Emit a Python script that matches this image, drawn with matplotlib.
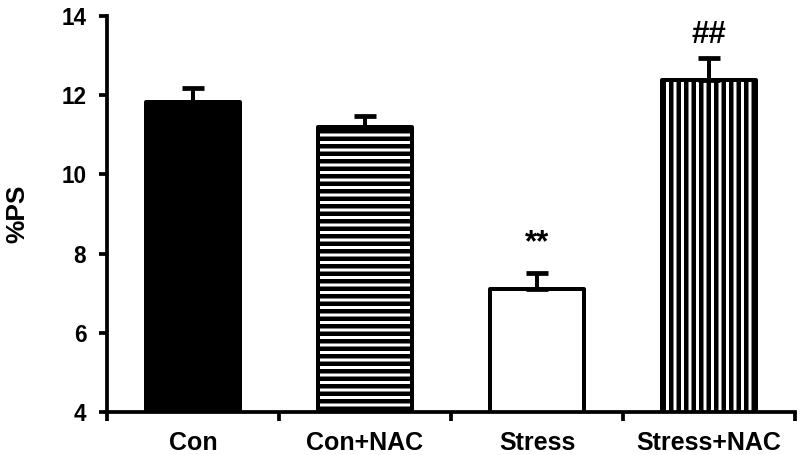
import matplotlib
matplotlib.use('Agg')
import matplotlib.pyplot as plt
import numpy as np

# data
groups = ['Con', 'Con+NAC', 'Stress', 'Stress+NAC']
means = [11.84, 11.2, 7.1, 12.38]
sem = [0.33, 0.27, 0.40, 0.56]
marks = ['', '', '**', '##']
mark_offset = [0, 0, 18, 12]
hatches = [None, '--', None, '||']
faces = ['black', 'white', 'white', 'white']

DPI = 90
plt.rcParams['font.family'] = ['Liberation Sans', 'DejaVu Sans']
plt.rcParams['font.weight'] = 'bold'
plt.rcParams['hatch.linewidth'] = 3.6
plt.rcParams['hatch.color'] = 'black'

fig = plt.figure(figsize=(801 / DPI, 455 / DPI), dpi=DPI)
ax = fig.add_axes([107 / 801, 1 - 412 / 455, (795 - 107) / 801, (412 - 16) / 455])

x = np.arange(len(groups))
for i in x:
    ax.bar(i, means[i], bottom=0, width=0.55, color=faces[i], edgecolor='black',
           linewidth=3.2, hatch=hatches[i], zorder=2, joinstyle='round')
ax.errorbar(x, means, yerr=[np.zeros(len(sem)), sem], fmt='none', ecolor='black',
            elinewidth=3.2, capsize=9, capthick=3.8, zorder=3)

for i, m in enumerate(marks):
    if m:
        ax.annotate(m, (i, means[i] + sem[i]), xytext=(0, mark_offset[i]),
                    textcoords='offset points', ha='center', va='baseline',
                    fontsize=25, fontweight='bold')

ax.set_ylim(4, 14)
ax.set_xlim(-0.5, 3.5)
ax.set_yticks([4, 6, 8, 10, 12, 14])
ax.set_xticks(x)
ax.set_xticklabels(groups)
ax.set_xticks(np.arange(-0.5, 4, 1), minor=True)
ax.tick_params(axis='x', which='major', length=0, pad=15, labelsize=20)
ax.tick_params(axis='x', which='minor', length=7, width=3, direction='out')
ax.tick_params(axis='y', length=6.5, width=3, direction='out', labelsize=18, pad=10)
ax.set_ylabel('%PS', fontsize=21, fontweight='bold')
ax.yaxis.set_label_coords(-0.113, 0.5)

for s in ['top', 'right']:
    ax.spines[s].set_visible(False)
for s in ['left', 'bottom']:
    ax.spines[s].set_linewidth(3)

fig.savefig('out.png', dpi=DPI)
